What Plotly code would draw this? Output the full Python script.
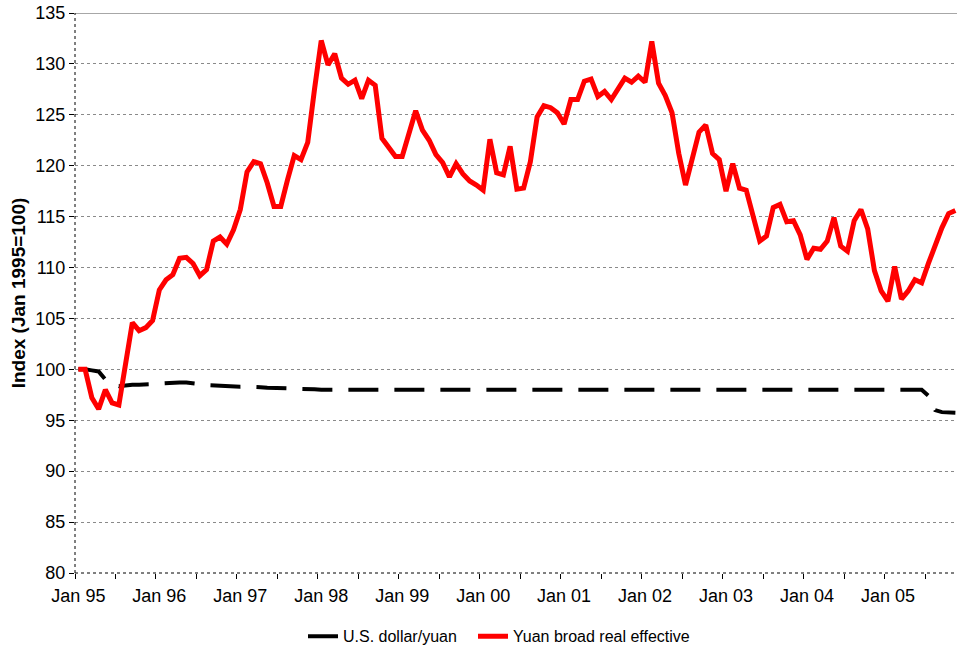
import plotly.graph_objects as go

# Monthly index, Jan 1995 (0) .. Nov 2005 (130)
months = list(range(131))

tick_positions = [0, 12, 24, 36, 48, 60, 72, 84, 96, 108, 120]
tick_labels = ["Jan 95", "Jan 96", "Jan 97", "Jan 98", "Jan 99", "Jan 00",
               "Jan 01", "Jan 02", "Jan 03", "Jan 04", "Jan 05"]

usd_yuan = [
    100.0, 100.0, 99.9, 99.8, 99.0, 98.6, 98.35, 98.45, 98.5, 98.5, 98.5, 98.55,
    98.6, 98.65, 98.7, 98.7, 98.7, 98.65, 98.55, 98.45, 98.4, 98.35, 98.35, 98.35,
    98.3, 98.3, 98.3, 98.25, 98.2, 98.2, 98.2, 98.15, 98.1, 98.1, 98.1, 98.05,
    98.0, 98.0, 98.0, 98.0, 98.0, 98.0, 98.0, 98.0, 98.0, 98.0, 98.0, 98.0,
    98.0, 98.0, 98.0, 98.0, 98.0, 98.0, 98.0, 98.0, 98.0, 98.0, 98.0, 98.0,
    98.0, 98.0, 98.0, 98.0, 98.0, 98.0, 98.0, 98.0, 98.0, 98.0, 98.0, 98.0,
    98.0, 98.0, 98.0, 98.0, 98.0, 98.0, 98.0, 98.0, 98.0, 98.0, 98.0, 98.0,
    98.0, 98.0, 98.0, 98.0, 98.0, 98.0, 98.0, 98.0, 98.0, 98.0, 98.0, 98.0,
    98.0, 98.0, 98.0, 98.0, 98.0, 98.0, 98.0, 98.0, 98.0, 98.0, 98.0, 98.0,
    98.0, 98.0, 98.0, 98.0, 98.0, 98.0, 98.0, 98.0, 98.0, 98.0, 98.0, 98.0,
    98.0, 98.0, 98.0, 98.0, 98.0, 98.0, 97.4, 96.0, 95.8, 95.75, 95.75,
]

yuan_reer = [
    100.0, 100.0, 97.2, 96.1, 98.0, 96.7, 96.5, 100.8, 104.6, 103.8, 104.1, 104.8,
    107.8, 108.8, 109.3, 110.9, 111.0, 110.4, 109.2, 109.8, 112.6, 113.0, 112.3, 113.7,
    115.7, 119.4, 120.4, 120.2, 118.3, 116.0, 116.0, 118.6, 121.0, 120.6, 122.3, 127.5,
    132.3, 129.9, 131.0, 128.6, 128.0, 128.4, 126.6, 128.4, 127.9, 122.7, 121.7, 120.9,
    120.9, 123.2, 125.4, 123.5, 122.5, 121.1, 120.3, 118.9, 120.2, 119.2, 118.5, 118.1,
    117.6, 122.6, 119.3, 119.1, 121.9, 117.7, 117.8, 120.4, 124.8, 125.9, 125.7, 125.2,
    124.1, 126.5, 126.5, 128.3, 128.5, 126.8, 127.3, 126.5, 127.6, 128.6, 128.2, 128.8,
    128.2, 132.2, 128.1, 126.9, 125.2, 121.2, 118.1, 120.9, 123.3, 124.0, 121.2, 120.6,
    117.5, 120.2, 117.8, 117.6, 115.0, 112.6, 113.1, 115.9, 116.2, 114.5, 114.6, 113.2,
    110.8, 111.9, 111.8, 112.6, 114.9, 112.1, 111.6, 114.6, 115.7, 113.8, 109.7, 107.7,
    106.7, 110.1, 106.9, 107.7, 108.8, 108.5, 110.4, 112.2, 113.9, 115.3, 115.6,
]

FONT = "Liberation Sans, Arial, sans-serif"

W, H = 957, 652
L, T = 75, 13
PW = 882
PB = 572.7  # plot bottom in pixels
PH = PB - T

fig = go.Figure()
fig.add_trace(go.Scatter(
    x=months, y=usd_yuan, mode="lines", name="U.S. dollar/yuan",
    line=dict(color="#000000", width=4, dash="30px,16px"),
    legend="legend",
))
fig.add_trace(go.Scatter(
    x=months, y=yuan_reer, mode="lines", name="Yuan broad real effective",
    line=dict(color="#ff0000", width=5),
    legend="legend2",
))

leg_y = (PB - 636) / PH

fig.update_layout(
    width=W, height=H,
    margin=dict(l=L, r=W - L - PW, t=T, b=H - PB, autoexpand=False),
    paper_bgcolor="white", plot_bgcolor="white",
    font=dict(family=FONT, size=18, color="black"),
    showlegend=True,
    legend=dict(x=(303 - L) / PW, xanchor="left", y=leg_y, yanchor="middle",
                font=dict(size=16), bgcolor="rgba(0,0,0,0)"),
    legend2=dict(x=(473 - L) / PW, xanchor="left", y=leg_y, yanchor="middle",
                 font=dict(size=16), bgcolor="rgba(0,0,0,0)"),
    xaxis=dict(
        range=[-0.5, 130.24],
        tickmode="array", tickvals=tick_positions, ticktext=tick_labels,
        ticks="", showgrid=False, zeroline=False, showline=False,
        tickfont=dict(size=18), ticklabelstandoff=10, automargin=False,
        minor=dict(tick0=-0.5, dtick=6, ticks="outside", ticklen=5,
                   tickcolor="black", tickwidth=1, showgrid=False),
    ),
    yaxis=dict(
        range=[80, 135], dtick=5, tick0=80,
        ticks="outside", ticklen=5, tickcolor="black",
        showgrid=True, gridcolor="#8a8a8a", griddash="dot", gridwidth=1,
        zeroline=False, showline=False, automargin=False,
        ticklabeloverflow="allow",
        tickfont=dict(size=18),
        title=dict(text="<b>Index (Jan 1995=100)</b>", font=dict(size=19), standoff=4),
    ),
    shapes=[
        dict(type="line", xref="paper", yref="y", x0=0, x1=1, y0=135, y1=135,
             line=dict(color="#8a8a8a", width=1.5)),
        dict(type="line", xref="paper", yref="paper", x0=0, x1=0, y0=0, y1=1,
             line=dict(color="black", width=1, dash="dot")),
        dict(type="line", xref="paper", yref="paper", x0=0, x1=1, y0=0, y1=0,
             line=dict(color="black", width=1, dash="dot")),
    ],
)

# remove the default 8px page margin so the figure sits at the window origin
fig.write_html("out.html",
               config={"displayModeBar": False},
               post_script="document.body.style.margin='0';document.body.style.overflow='hidden';")
